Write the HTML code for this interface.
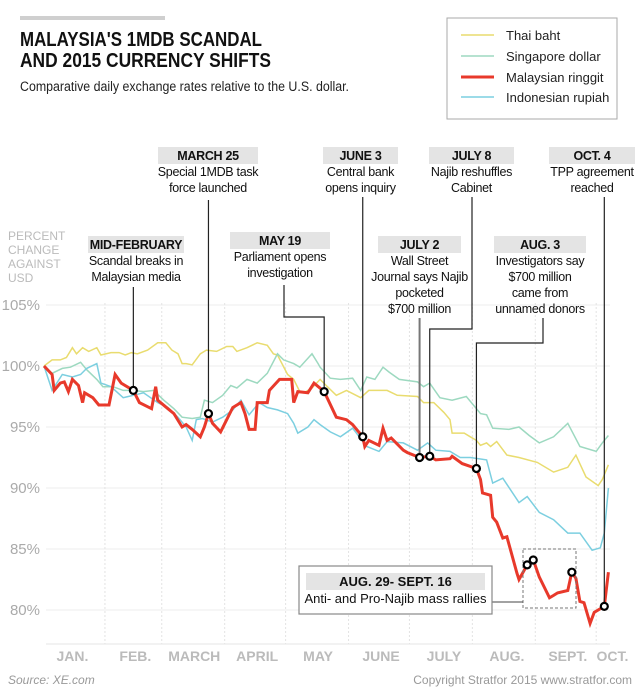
<!DOCTYPE html>
<html><head><meta charset="utf-8">
<style>
html,body{margin:0;padding:0;background:#fff;}
svg{display:block;font-family:"Liberation Sans",sans-serif;}
</style></head>
<body>
<svg id="chart" width="640" height="700" viewBox="0 0 640 700" xmlns="http://www.w3.org/2000/svg">
  <rect x="20" y="16" width="145" height="4" fill="#cfcfcf"/>
  <text x="20" y="46" font-size="20" font-weight="bold" fill="#111" textLength="242" lengthAdjust="spacingAndGlyphs">MALAYSIA'S 1MDB SCANDAL</text>
  <text x="20" y="67" font-size="20" font-weight="bold" fill="#111" textLength="251" lengthAdjust="spacingAndGlyphs">AND 2015 CURRENCY SHIFTS</text>
  <text x="20" y="91" font-size="13.5" fill="#222" textLength="329" lengthAdjust="spacingAndGlyphs">Comparative daily exchange rates relative to the U.S. dollar.</text>

  <g>
    <rect x="447" y="18" width="170" height="101" fill="#fff" stroke="#aaa" stroke-width="1"/>
    <g><line x1="461" y1="35" x2="494" y2="35" stroke="#e9dc6f" stroke-width="1.5"/><text x="506" y="40" font-size="13" fill="#222">Thai baht</text></g>
    <g><line x1="461" y1="56" x2="494" y2="56" stroke="#9dd9c0" stroke-width="1.5"/><text x="506" y="61" font-size="13" fill="#222">Singapore dollar</text></g>
    <g><line x1="461" y1="77" x2="494" y2="77" stroke="#e8392b" stroke-width="3"/><text x="506" y="82" font-size="13" fill="#222">Malaysian ringgit</text></g>
    <g><line x1="461" y1="97" x2="494" y2="97" stroke="#7ccfe0" stroke-width="1.5"/><text x="506" y="102" font-size="13" fill="#222">Indonesian rupiah</text></g>
  </g>

  <g font-size="12" fill="#bbb">
    <text x="8" y="240">PERCENT</text><text x="8" y="254">CHANGE</text><text x="8" y="268">AGAINST</text><text x="8" y="282">USD</text>
  </g>

  <g id="grid"></g>
  <g id="series"></g>
  <g id="annotations"></g>

  <text x="8" y="684" font-size="12" font-style="italic" fill="#999">Source: XE.com</text>
  <text x="632" y="684" font-size="12" fill="#999" text-anchor="end">Copyright Stratfor 2015   www.stratfor.com</text>
</svg>
<script>
// ---- data (day of year, % vs USD) ----
const yTicks = [105, 100, 95, 90, 85, 80];
const monthNames = ["JAN.","FEB.","MARCH","APRIL","MAY","JUNE","JULY","AUG.","SEPT.","OCT."];
const monthStartDays = [0,31,59,90,120,151,181,212,243,273];
const monthLabelDays = [15,46,75,106,136,167,198,229,259,281];

const thaiDays = [1,5,9,12,15,17,20,23,27,29,34,38,41,44,47,52,57,61,64,67,69,71,74,78,81,86,91,94,96,101,106,111,114,116,121,124,127,129,133,137,140,145,150,157,161,170,175,185,188,193,198,201,202,208,211,214,216,219,221,224,229,235,244,252,259,263,268,274,276,279];
const thaiVals = [100,100.5,100.5,100.7,101.5,101,101.5,101.2,101.5,100.9,101.1,101.1,100.9,101.1,101,101.3,101.9,101.9,101.3,101,100.2,100.2,100.1,101,101.3,101.2,101.6,101.6,101.2,101.5,101.9,101.7,101,100.9,99.3,98.9,97.9,97.8,98.2,98.9,98.4,97.6,98,97.4,98,98,97.6,97.5,97,97,96.2,95.6,94.5,94.5,94.2,93.9,93.5,93.7,93.4,93.8,92.7,92.5,92.1,91.3,91.7,92.7,90.9,90.2,90.7,91.9];

const sgdDays = [1,5,10,14,19,22,27,30,35,40,45,50,55,60,65,69,74,78,80,84,89,93,96,101,106,111,116,119,124,127,133,136,137,142,147,153,157,160,164,168,171,176,185,188,191,196,202,209,216,219,222,230,235,240,245,252,259,265,273,276,279];
const sgdVals = [100,99.4,99.8,99.9,100.3,99.7,98.9,98.3,98.3,98,98,97.9,98,97.2,96.5,95.8,95.7,95.8,97.2,97,97.6,98.4,98.2,98.9,98.6,99.4,101,100.5,100.2,99.9,101,100.2,99.9,99,98.9,99,98,99.1,98.9,99.9,99.5,98.9,98.7,98.3,98.6,97.4,97.2,97.5,96.1,96,94.9,94.8,95,94.3,93.7,94.2,95.3,93.4,93,93.7,94.3];

const idrDays = [1,5,10,15,19,22,27,29,34,40,45,50,57,62,67,71,74,76,79,84,89,94,98,102,107,111,116,121,124,126,131,134,137,142,147,153,160,166,170,178,185,190,194,201,206,211,219,222,227,235,239,245,252,259,265,271,275,277,279];
const idrVals = [100,98,99.3,99.1,99.3,99.8,100.2,98.6,98.3,97.4,97.6,97.8,97,96.6,95.8,95,93.9,95.6,95.7,95.4,95.8,96.4,97.2,96,97,96.6,96.4,96.1,95.3,94.5,95,95.6,95.2,94.6,94.2,94.9,93.4,93,93.8,93.7,93.1,93.7,93.1,93,92.5,92.5,92.3,90.4,90.8,88.8,89.3,88,87.4,86.3,86.3,84.9,85.1,86.3,90];

const myrDays = [1,5,6,9,11,13,15,18,20,21,25,28,33,36,39,45,48,54,56,57,62,65,69,71,74,78,80,82,84,88,91,94,98,100,102,105,106,111,112,117,123,124,126,131,134,139,145,150,153,158,159,161,166,168,170,172,178,180,186,191,194,201,202,207,214,216,217,221,222,224,227,229,234,235,239,242,245,250,252,254,259,261,263,265,267,270,272,277,279];
const myrVals = [100,99.3,98,98.6,98.7,97.9,98.9,98.4,97,97.8,97.4,96.8,96.8,99.3,98.6,98,97,96.5,98.3,97.2,96.5,96.1,95,95.2,94.8,94.2,95,96.1,95.3,94.6,95.6,96.6,97,96.1,94.8,94.8,97,97,98,98.9,98.9,97,97.9,97.8,98.6,97.9,95.8,95.6,95.2,94.2,93.4,93.9,93.5,94.9,93.9,94.1,93.1,92.9,92.5,92.6,92.3,92.4,92.6,92,91.6,90.7,89.6,89.4,87.6,87.2,85.9,86,83,82.5,83.7,84.1,82.7,81,81.2,81.4,81.6,83.1,82.6,80.7,80.6,78.9,79.8,80.3,83.1];

const eventMarkerDays = [45,82,139,158,186,191,214,239,242,261,277];

// ---- axes ----
const X0 = 42, PXDAY = 2.03, Y100 = 366, PXPCT = 12.2;
function xScale(d){ return X0 + d*PXDAY; }
function yScale(v){ return Y100 + (100 - v)*PXPCT; }
const NS = "http://www.w3.org/2000/svg";
function mk(tag, attrs, parent){ const e=document.createElementNS(NS,tag); for(const k in attrs) e.setAttribute(k,attrs[k]); parent.appendChild(e); return e; }

const grid = document.getElementById('grid');
yTicks.forEach(t=>{
  const y=yScale(t);
  const gl=mk('line',{x1:46,x2:610,y1:y,y2:y,stroke:'#eeeeee','stroke-width':1},grid);
  
  
  const lb=mk('text',{x:40,y:y+5,'font-size':15,fill:'#aaa','text-anchor':'end'},grid);
  lb.textContent=t+'%';
  
  
});
monthStartDays.forEach((d,i)=>{
  if(i===0) return;
  const x=xScale(d);
  const vl=mk('line',{x1:x,x2:x,y1:303,y2:644,stroke:'#e3e3e3','stroke-width':1,'stroke-dasharray':'2,2'},grid);
  
  
});
const ax=mk('line',{x1:46,x2:610,y1:644,y2:644,stroke:'#e6e6e6','stroke-width':1},grid);


monthNames.forEach((m,i)=>{
  const t=mk('text',{x:xScale(monthLabelDays[i]),y:661,'font-size':14,'font-weight':'bold',fill:'#bbb','text-anchor':'middle'},grid);
  t.textContent=m;
  
  
});

// ---- series ----
const ser = document.getElementById('series');
function drawLine(days, vals, color, w, name){
  const pts = days.map((d,i)=>xScale(d).toFixed(1)+','+yScale(vals[i]).toFixed(1)).join(' ');
  const p=mk('polyline',{points:pts,fill:'none',stroke:color,'stroke-width':w,'stroke-linejoin':'miter'},ser);
  
  
}
drawLine(thaiDays, thaiVals, '#e9dc6f', 1.5, 'thai-baht-line');
drawLine(sgdDays, sgdVals, '#9dd9c0', 1.5, 'singapore-dollar-line');
drawLine(idrDays, idrVals, '#7ccfe0', 1.5, 'indonesian-rupiah-line');
drawLine(myrDays, myrVals, '#e8392b', 3, 'malaysian-ringgit-line');

function myrAt(day){
  let best=0, bd=1e9;
  myrDays.forEach((d,i)=>{ if(Math.abs(d-day)<bd){bd=Math.abs(d-day);best=i;} });
  return myrVals[best];
}

// ---- annotations ----
const ann = document.getElementById('annotations');
const M = eventMarkerDays.map(d=>({x:xScale(d), y:yScale(myrAt(d))}));

function label(x1,x2,y,lines,name){
  const g=mk('g',{},ann);
  
  
  mk('rect',{x:x1,y:y,width:x2-x1,height:17,fill:'#e4e4e4'},g);
  const cx=(x1+x2)/2;
  lines.forEach((s,i)=>{
    const t=mk('text',{x:cx,y:y+13+i*16,'font-size':12.5,'letter-spacing':'-0.3',fill:'#111','text-anchor':'middle','font-weight':i===0?'bold':'normal'},g);
    t.textContent=s;
  });
}
function leader(pts,name,color,w){
  const p=mk('polyline',{points:pts.map(q=>q.join(',')).join(' '),fill:'none',stroke:color||'#222','stroke-width':w||1.2},ann);
  
  
}
label(158,258,147,['MARCH 25','Special 1MDB task','force launched'],'annotation-march-25');
label(323,398,147,['JUNE 3','Central bank','opens inquiry'],'annotation-june-3');
label(429,514,147,['JULY 8','Najib reshuffles','Cabinet'],'annotation-july-8');
label(549,635,147,['OCT. 4','TPP agreement','reached'],'annotation-oct-4');
label(88,184,236,['MID-FEBRUARY','Scandal breaks in','Malaysian media'],'annotation-mid-february');
label(230,330,232,['MAY 19','Parliament opens','investigation'],'annotation-may-19');
label(378,461,236,['JULY 2','Wall Street','Journal says Najib','pocketed','$700 million'],'annotation-july-2');
label(494,586,236,['AUG. 3','Investigators say','$700 million','came from','unnamed donors'],'annotation-aug-3');

leader([[M[0].x,287],[M[0].x,M[0].y]],'leader-mid-february');
leader([[M[1].x,200],[M[1].x,M[1].y]],'leader-march-25');
leader([[284,285],[284,317],[M[2].x,317],[M[2].x,M[2].y]],'leader-may-19');
leader([[M[3].x,197],[M[3].x,M[3].y]],'leader-june-3');
leader([[M[4].x,318],[M[4].x,M[4].y]],'leader-july-2','#777',2);
leader([[472,197],[472,329],[M[5].x,329],[M[5].x,M[5].y]],'leader-july-8');
leader([[543,318],[543,343],[M[6].x,343],[M[6].x,M[6].y]],'leader-aug-3');
leader([[M[10].x,197],[M[10].x,M[10].y]],'leader-oct-4');

// rallies callout
const rb=mk('rect',{x:523,y:549,width:53,height:59,fill:'none',stroke:'#777','stroke-width':1,'stroke-dasharray':'3,2'},ann);


leader([[492,602],[523,602]],'leader-rallies','#444',1);
const cg=mk('g',{},ann);


mk('rect',{x:299,y:566,width:193,height:48,fill:'#fff',stroke:'#888','stroke-width':1.2},cg);
mk('rect',{x:306,y:573,width:179,height:17,fill:'#e4e4e4'},cg);
const t1=mk('text',{x:395.5,y:586,'font-size':13,'font-weight':'bold',fill:'#111','text-anchor':'middle'},cg); t1.textContent='AUG. 29- SEPT. 16';
const t2=mk('text',{x:395.5,y:603,'font-size':13,fill:'#111','text-anchor':'middle'},cg); t2.textContent='Anti- and Pro-Najib mass rallies';

M.forEach(p=>{
  const c=mk('circle',{cx:p.x,cy:p.y,r:3.5,fill:'#fff',stroke:'#000','stroke-width':2.2},ann);
  
  
});
</script>
</body></html>
